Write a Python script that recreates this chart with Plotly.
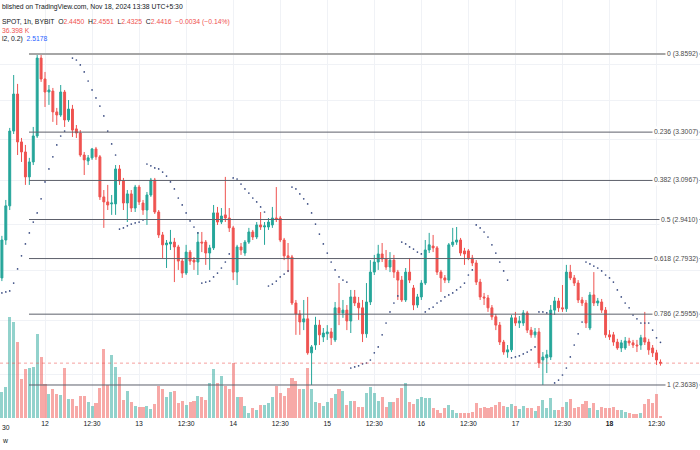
import math
import pandas as pd
import plotly.graph_objects as go

# ---------------- data ----------------
times = pd.date_range("2024-11-11 13:30", periods=169, freq="h")

open_ = [2.770, 2.930, 3.082, 3.443, 3.637, 3.388, 3.338, 3.217, 3.289, 3.418,
         3.836, 3.719, 3.648, 3.653, 3.542, 3.526, 3.648, 3.500, 3.557, 3.454,
         3.433, 3.323, 3.294, 3.309, 3.353, 3.314, 3.123, 3.100, 3.091, 3.091,
         3.255, 3.198, 3.095, 3.137, 3.072, 3.169, 3.095, 3.063, 3.132, 3.202,
         3.054, 2.952, 2.909, 2.913, 2.921, 2.900, 2.840, 2.790, 2.878, 2.844,
         2.836, 2.921, 2.921, 2.874, 2.896, 3.050, 3.009, 3.041, 3.027, 2.983,
         2.794, 2.900, 2.874, 2.921, 2.965, 2.943, 2.996, 2.987, 2.987, 2.996,
         3.027, 3.027, 2.930, 2.862, 2.857, 2.669, 2.626, 2.595, 2.607, 2.479,
         2.508, 2.583, 2.538, 2.550, 2.557, 2.527, 2.650, 2.630, 2.641, 2.599,
         2.693, 2.669, 2.650, 2.550, 2.673, 2.794, 2.836, 2.870, 2.849, 2.815,
         2.844, 2.794, 2.761, 2.681, 2.794, 2.729, 2.661, 2.693, 2.749, 2.887,
         2.904, 2.896, 2.794, 2.770, 2.761, 2.909, 2.921, 2.930, 2.883, 2.883,
         2.853, 2.832, 2.753, 2.693, 2.689, 2.650, 2.615, 2.583, 2.519, 2.482,
         2.490, 2.611, 2.591, 2.591, 2.630, 2.564, 2.546, 2.557, 2.453, 2.461,
         2.464, 2.641, 2.677, 2.650, 2.646, 2.794, 2.770, 2.749, 2.681, 2.669,
         2.572, 2.701, 2.669, 2.673, 2.641, 2.546, 2.546, 2.519, 2.497, 2.497,
         2.523, 2.516, 2.508, 2.508, 2.535, 2.519, 2.497, 2.479, 2.4450]

high = [2.948, 3.109, 3.459, 3.741, 3.692, 3.408, 3.373, 3.309, 3.464, 3.859,
        3.859, 3.758, 3.686, 3.670, 3.563, 3.686, 3.659, 3.605, 3.579, 3.474,
        3.448, 3.338, 3.323, 3.358, 3.363, 3.323, 3.155, 3.179, 3.132, 3.274,
        3.274, 3.212, 3.155, 3.155, 3.179, 3.179, 3.109, 3.146, 3.212, 3.212,
        3.063, 2.965, 2.930, 2.974, 2.939, 2.909, 2.853, 2.909, 2.887, 2.857,
        2.965, 2.965, 2.930, 2.909, 3.086, 3.077, 3.072, 3.217, 3.072, 2.992,
        2.909, 2.917, 2.930, 2.983, 2.974, 3.009, 3.054, 3.009, 3.027, 3.077,
        3.169, 3.036, 2.939, 2.917, 2.866, 2.681, 2.641, 2.681, 2.693, 2.508,
        2.615, 2.603, 2.572, 2.583, 2.572, 2.673, 2.749, 2.681, 2.661, 2.721,
        2.721, 2.693, 2.681, 2.749, 2.844, 2.866, 2.909, 2.917, 2.887, 2.878,
        2.866, 2.803, 2.778, 2.811, 2.853, 2.741, 2.705, 2.761, 2.930, 2.961,
        2.952, 2.904, 2.803, 2.782, 2.917, 2.983, 2.987, 2.939, 2.896, 2.891,
        2.866, 2.844, 2.766, 2.709, 2.701, 2.661, 2.626, 2.595, 2.527, 2.508,
        2.622, 2.634, 2.618, 2.641, 2.638, 2.576, 2.572, 2.572, 2.482, 2.490,
        2.661, 2.693, 2.689, 2.741, 2.824, 2.824, 2.782, 2.761, 2.693, 2.681,
        2.713, 2.794, 2.689, 2.685, 2.653, 2.564, 2.557, 2.531, 2.527, 2.538,
        2.535, 2.527, 2.527, 2.546, 2.634, 2.531, 2.508, 2.490, 2.4551]

low = [2.757, 2.909, 3.063, 3.428, 3.323, 3.289, 3.179, 3.179, 3.274, 3.408,
       3.703, 3.568, 3.579, 3.490, 3.474, 3.516, 3.464, 3.490, 3.413, 3.408,
       3.314, 3.226, 3.274, 3.299, 3.299, 3.109, 2.983, 3.063, 3.041, 3.041,
       3.179, 3.063, 3.009, 3.054, 3.054, 3.086, 3.041, 2.996, 3.123, 3.045,
       2.939, 2.853, 2.811, 2.887, 2.753, 2.803, 2.770, 2.782, 2.824, 2.803,
       2.782, 2.878, 2.824, 2.803, 2.887, 2.996, 3.000, 3.009, 2.965, 2.761,
       2.741, 2.866, 2.862, 2.913, 2.930, 2.934, 2.974, 2.909, 2.974, 2.983,
       3.009, 2.921, 2.844, 2.794, 2.661, 2.546, 2.546, 2.564, 2.472, 2.364,
       2.490, 2.508, 2.519, 2.527, 2.508, 2.519, 2.583, 2.611, 2.564, 2.553,
       2.657, 2.603, 2.519, 2.535, 2.661, 2.782, 2.803, 2.836, 2.803, 2.794,
       2.770, 2.681, 2.673, 2.673, 2.749, 2.641, 2.650, 2.681, 2.741, 2.874,
       2.878, 2.782, 2.713, 2.749, 2.749, 2.900, 2.909, 2.862, 2.824, 2.844,
       2.819, 2.741, 2.681, 2.661, 2.634, 2.603, 2.564, 2.508, 2.472, 2.461,
       2.482, 2.580, 2.572, 2.580, 2.553, 2.535, 2.535, 2.424, 2.364, 2.406,
       2.453, 2.622, 2.634, 2.634, 2.634, 2.761, 2.737, 2.669, 2.657, 2.572,
       2.564, 2.657, 2.657, 2.630, 2.535, 2.527, 2.505, 2.490, 2.482, 2.490,
       2.505, 2.497, 2.482, 2.490, 2.508, 2.472, 2.464, 2.435, 2.4325]

close = [2.930, 3.082, 3.443, 3.637, 3.388, 3.338, 3.217, 3.289, 3.418, 3.836,
         3.719, 3.648, 3.659, 3.542, 3.526, 3.648, 3.500, 3.557, 3.448, 3.433,
         3.323, 3.299, 3.309, 3.353, 3.314, 3.123, 3.100, 3.086, 3.095, 3.255,
         3.198, 3.095, 3.137, 3.072, 3.169, 3.100, 3.063, 3.132, 3.202, 3.054,
         2.952, 2.909, 2.917, 2.921, 2.900, 2.840, 2.790, 2.878, 2.840, 2.836,
         2.921, 2.917, 2.874, 2.896, 3.050, 3.009, 3.036, 3.027, 2.983, 2.794,
         2.900, 2.887, 2.921, 2.965, 2.943, 2.996, 2.987, 2.992, 3.009, 3.027,
         3.023, 2.930, 2.862, 2.853, 2.669, 2.626, 2.595, 2.607, 2.479, 2.501,
         2.583, 2.546, 2.553, 2.557, 2.535, 2.650, 2.630, 2.641, 2.599, 2.693,
         2.669, 2.650, 2.550, 2.673, 2.794, 2.836, 2.870, 2.849, 2.815, 2.844,
         2.794, 2.761, 2.681, 2.794, 2.761, 2.661, 2.693, 2.749, 2.887, 2.909,
         2.896, 2.794, 2.770, 2.761, 2.909, 2.921, 2.930, 2.874, 2.870, 2.853,
         2.832, 2.753, 2.693, 2.689, 2.650, 2.615, 2.583, 2.519, 2.482, 2.490,
         2.611, 2.591, 2.599, 2.630, 2.564, 2.546, 2.557, 2.442, 2.464, 2.472,
         2.641, 2.677, 2.650, 2.646, 2.794, 2.770, 2.749, 2.681, 2.669, 2.591,
         2.701, 2.669, 2.677, 2.641, 2.546, 2.538, 2.519, 2.497, 2.516, 2.523,
         2.516, 2.508, 2.505, 2.535, 2.519, 2.490, 2.479, 2.453, 2.4416]

volume_k = [468, 558, 1818, 1728, 1368, 702, 882, 900, 918, 1512,
            1098, 612, 432, 522, 432, 414, 900, 342, 342, 216,
            396, 396, 288, 216, 270, 540, 1242, 594, 1134, 918,
            738, 324, 486, 288, 216, 198, 198, 216, 162, 252,
            576, 522, 378, 468, 486, 270, 306, 234, 288, 306,
            396, 378, 324, 630, 882, 630, 756, 576, 522, 990,
            378, 378, 216, 90, 180, 144, 234, 234, 270, 378,
            576, 450, 396, 540, 720, 666, 522, 522, 900, 522,
            288, 270, 216, 288, 360, 432, 522, 486, 234, 306,
            306, 198, 198, 450, 558, 450, 306, 378, 198, 288,
            288, 360, 540, 630, 288, 252, 342, 378, 360, 360,
            180, 144, 90, 180, 234, 144, 90, 90, 90, 90,
            108, 270, 180, 198, 180, 198, 234, 288, 216, 198,
            252, 216, 162, 216, 180, 180, 126, 216, 324, 180,
            360, 144, 144, 198, 288, 342, 180, 198, 252, 306,
            180, 270, 144, 198, 180, 180, 198, 144, 144, 108,
            90, 72, 72, 90, 252, 342, 270, 432, 36.398]

sar = [2.709, 2.713, 2.717, 2.749, 2.807, 2.862, 2.913, 2.961, 3.009, 3.050,
       3.114, 3.193, 3.255, 3.314, 3.373, 3.418, 3.443, 3.859, 3.836, 3.825,
       3.797, 3.758, 3.708, 3.659, 3.616, 3.573, 3.521, 3.443, 3.378, 3.323,
       2.978, 2.983, 2.992, 3.000, 3.005, 3.009, 3.018, 3.279, 3.270, 3.260,
       3.255, 3.240, 3.221, 3.193, 3.160, 3.118, 3.086, 3.050, 3.014, 2.987,
       2.961, 2.749, 2.753, 2.757, 2.774, 2.790, 2.811, 2.836, 2.870, 3.212,
       3.207, 3.183, 3.160, 3.141, 3.118, 3.100, 3.077, 3.054, 2.737, 2.745,
       2.757, 2.774, 2.786, 2.799, 3.169, 3.160, 3.137, 3.114, 3.091, 3.050,
       3.000, 2.956, 2.913, 2.874, 2.836, 2.803, 2.774, 2.761, 2.753, 2.424,
       2.428, 2.432, 2.439, 2.442, 2.453, 2.479, 2.501, 2.546, 2.591, 2.634,
       2.669, 2.697, 2.921, 2.913, 2.900, 2.891, 2.878, 2.870, 2.634, 2.646,
       2.653, 2.669, 2.677, 2.693, 2.701, 2.709, 2.721, 2.733, 2.749, 2.782,
       2.803, 2.996, 2.983, 2.965, 2.943, 2.909, 2.874, 2.836, 2.799, 2.761,
       2.461, 2.464, 2.468, 2.475, 2.482, 2.490, 2.501, 2.634, 2.634, 2.630,
       2.626, 2.371, 2.381, 2.399, 2.424, 2.464, 2.508, 2.550, 2.595, 2.836,
       2.828, 2.819, 2.811, 2.799, 2.782, 2.770, 2.753, 2.721, 2.693, 2.669,
       2.650, 2.622, 2.607, 2.591, 2.591, 2.591, 2.564, 2.535, 2.5178]

fib_levels = [0, 0.236, 0.382, 0.5, 0.618, 0.786, 1]
fib_labels = ["0 (3.8592)", "0.236 (3.3007)", "0.382 (3.0967)", "0.5 (2.9410)",
              "0.618 (2.7932)", "0.786 (2.5955)", "1 (2.3638)"]
fib_top = 3.8592
fib_bottom = 2.3638
fib_start = "2024-11-11 20:25"

tick_times = ["2024-11-12 00:30", "2024-11-12 12:30", "2024-11-13 00:30", "2024-11-13 12:30",
              "2024-11-14 00:30", "2024-11-14 12:30", "2024-11-15 00:30", "2024-11-15 12:30",
              "2024-11-16 00:30", "2024-11-16 12:30", "2024-11-17 00:30", "2024-11-17 12:30",
              "2024-11-18 00:30", "2024-11-18 12:30"]
tick_text = ["12", "12:30", "13", "12:30", "14", "12:30", "15", "12:30",
             "16", "12:30", "17", "12:30", "<b>18</b>", "12:30"]

# ---------------- styling ----------------
UP = "#26a69a"
DOWN = "#ef5350"
UP_VOL = "rgba(38,166,154,0.5)"
DOWN_VOL = "rgba(239,83,80,0.5)"
FONT = "Liberation Sans"
X_RANGE = ["2024-11-11 13:01", "2024-11-18 23:35"]
PLOT_H = 418

fig = go.Figure()

vol_colors = [UP_VOL if c >= o else DOWN_VOL for o, c in zip(open_, close)]
fig.add_trace(go.Bar(x=times, y=volume_k, marker=dict(color=vol_colors, line=dict(width=0)),
                     width=0.78 * 3600000, yaxis="y2", hoverinfo="skip", showlegend=False))

fig.add_trace(go.Candlestick(
    x=times, open=open_, high=high, low=low, close=close,
    increasing=dict(line=dict(color=UP, width=1), fillcolor=UP),
    decreasing=dict(line=dict(color=DOWN, width=1), fillcolor=DOWN),
    whiskerwidth=0, showlegend=False))

fig.add_trace(go.Scatter(x=times, y=sar, mode="markers",
                         marker=dict(size=1.7, color="#3a4c82"),
                         hoverinfo="skip", showlegend=False))

shapes = []
annotations = []
for lvl, lab in zip(fib_levels, fib_labels):
    price = fib_top * (fib_bottom / fib_top) ** lvl
    shapes.append(dict(type="line", xref="x", yref="y", x0=fib_start, x1=X_RANGE[1],
                       y0=price, y1=price,
                       line=dict(color="#a6a6a6" if lvl == 0 else "#5d606b",
                                 width=2 if lvl == 0 else 1)))
    annotations.append(dict(x=1, xref="paper", xanchor="right", y=math.log10(price), yref="y",
                            yanchor="middle", text=lab, showarrow=False, bgcolor="white",
                            borderpad=1, font=dict(family=FONT, size=6.8, color="#4a4a4a")))

# last price dotted line
shapes.append(dict(type="line", xref="paper", yref="y", x0=0, x1=1, y0=close[-1], y1=close[-1],
                   line=dict(color="rgba(239,83,80,0.55)", width=1, dash="dot")))


def py(px):
    return 1 - px / PLOT_H


red = DOWN
hdr = [
    (7, "blished on TradingView.com, Nov 18, 2024 13:38 UTC+5:30", "#131722"),
    (22, ("SPOT, 1h, BYBIT  O<span style='color:%s'>2.4450</span>  H<span style='color:%s'>2.4551</span>"
          "  L<span style='color:%s'>2.4325</span>  C<span style='color:%s'>2.4416</span>"
          "  <span style='color:%s'>\u22120.0034 (\u22120.14%%)</span>") % (red, red, red, red, red), "#131722"),
    (30, "36.398 K", red),
    (39, "l2, 0.2)  <span style='color:#2962ff'>2.5178</span>", "#131722"),
]
for ypx, txt, col in hdr:
    annotations.append(dict(x=0, xref="paper", xanchor="left", y=py(ypx), yref="paper",
                            yanchor="middle", text=txt, showarrow=False,
                            font=dict(family=FONT, size=6.8, color=col)))

annotations.append(dict(x=0, xref="paper", xanchor="left", y=py(427), yref="paper",
                        yanchor="middle", text="30", showarrow=False,
                        font=dict(family=FONT, size=6.8, color="#131722")))
annotations.append(dict(x=0, xref="paper", xanchor="left", y=py(440), yref="paper",
                        yanchor="middle", text="w", showarrow=False,
                        font=dict(family=FONT, size=6.8, color="#131722")))

fig.update_layout(
    width=700, height=450,
    margin=dict(l=0, r=0, t=0, b=450 - PLOT_H),
    paper_bgcolor="white", plot_bgcolor="white",
    showlegend=False, bargap=0,
    shapes=shapes, annotations=annotations,
    font=dict(family=FONT, size=6.8, color="#131722"),
    xaxis=dict(type="date", range=X_RANGE, tickmode="array", tickvals=tick_times,
               ticktext=tick_text, showgrid=True, gridcolor="#f0f2f6", gridwidth=1,
               zeroline=False, showline=False, ticks="", rangeslider=dict(visible=False),
               tickfont=dict(family=FONT, size=6.8, color="#131722")),
    yaxis=dict(type="log", range=[0.35238, 0.62123], showticklabels=False,
               tickmode="array", tickvals=[2.4, 2.6, 2.8, 3.0, 3.2, 3.4, 3.6, 3.8],
               showgrid=True, gridcolor="#f0f2f6", zeroline=False, showline=False, ticks=""),
    yaxis2=dict(overlaying="y", range=[0, PLOT_H * 18], visible=False, fixedrange=True),
)

fig.write_html("out.html", config={"displayModeBar": False},
               post_script="document.body.style.margin='0';document.body.style.padding='0';")
